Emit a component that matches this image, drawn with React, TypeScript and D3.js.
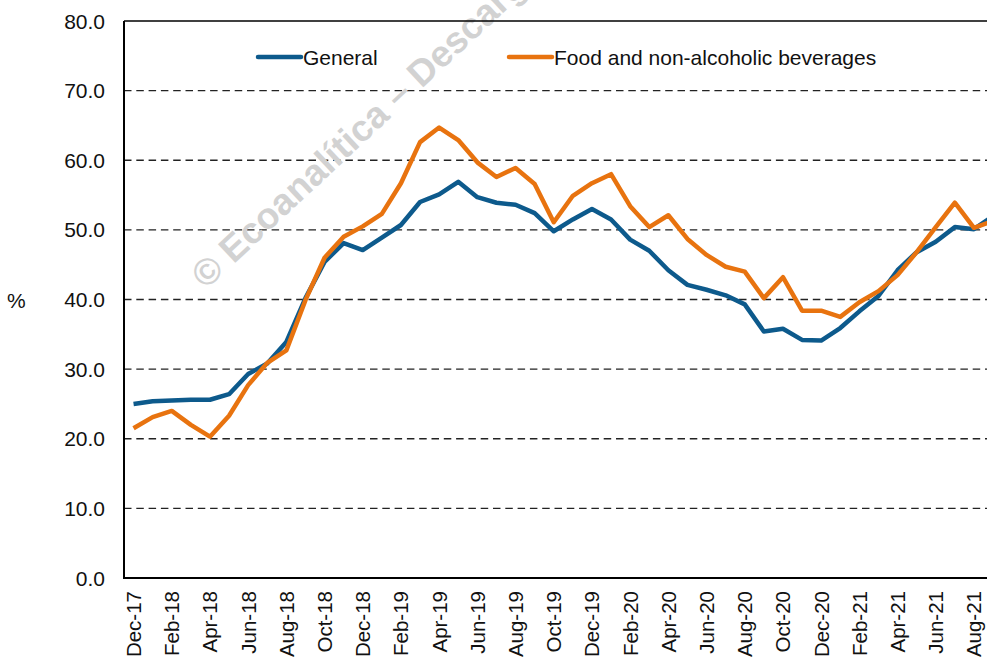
import React, { useEffect, useRef } from 'react';
import * as d3 from 'd3';

const months = [
  'Dec-17',
  'Jan-18', 'Feb-18', 'Mar-18', 'Apr-18', 'May-18', 'Jun-18', 'Jul-18', 'Aug-18', 'Sep-18', 'Oct-18', 'Nov-18', 'Dec-18',
  'Jan-19', 'Feb-19', 'Mar-19', 'Apr-19', 'May-19', 'Jun-19', 'Jul-19', 'Aug-19', 'Sep-19', 'Oct-19', 'Nov-19', 'Dec-19',
  'Jan-20', 'Feb-20', 'Mar-20', 'Apr-20', 'May-20', 'Jun-20', 'Jul-20', 'Aug-20', 'Sep-20', 'Oct-20', 'Nov-20', 'Dec-20',
  'Jan-21', 'Feb-21', 'Mar-21', 'Apr-21', 'May-21', 'Jun-21', 'Jul-21', 'Aug-21', 'Sep-21',
];

const general = [
  25.0,
  25.4, 25.5, 25.6, 25.6, 26.4, 29.3, 30.8, 33.9, 40.2, 45.4, 48.1, 47.1,
  48.9, 50.7, 54.0, 55.1, 56.9, 54.7, 53.9, 53.6, 52.4, 49.8, 51.5, 53.0,
  51.5, 48.6, 47.0, 44.2, 42.1, 41.4, 40.6, 39.3, 35.4, 35.8, 34.2, 34.1,
  35.9, 38.3, 40.5, 44.2, 46.8, 48.3, 50.4, 50.1, 52.0,
];

const food = [
  21.5,
  23.1, 24.0, 22.0, 20.3, 23.3, 27.7, 30.9, 32.7, 39.9, 46.0, 49.0, 50.5,
  52.3, 56.7, 62.6, 64.7, 62.9, 59.7, 57.6, 58.9, 56.6, 51.1, 54.9, 56.7,
  58.0, 53.4, 50.4, 52.1, 48.7, 46.4, 44.7, 44.0, 40.2, 43.2, 38.4, 38.4,
  37.5, 39.6, 41.2, 43.5, 46.8, 50.4, 53.9, 50.3, 51.3,
];

const yTicks = [0, 10, 20, 30, 40, 50, 60, 70, 80];
const seriesNames = ['General', 'Food and non-alcoholic beverages'];
const seriesColors = ['#0d5a8c', '#e8730f'];

const W = 987;
const H = 657;
const FONT = '"Liberation Sans", Arial, sans-serif';

export default function App() {
  const ref = useRef<SVGSVGElement>(null);

  useEffect(() => {
    const svg = d3.select(ref.current);
    svg.selectAll('*').remove();

    const left = 124;
    const top = 21;
    const bottom = 578;
    const step = 19.1;

    const x = d3
      .scaleBand<string>()
      .domain(months)
      .range([left, left + months.length * step]);
    const y = d3.scaleLinear().domain([0, 80]).range([bottom, top]);
    const cx = (m: string) => (x(m) as number) + x.bandwidth() / 2;

    // grid
    svg
      .append('g')
      .selectAll('line')
      .data(yTicks.filter((t) => t > 0 && t < 80))
      .enter()
      .append('line')
      .attr('x1', left)
      .attr('x2', W)
      .attr('y1', (d) => y(d))
      .attr('y2', (d) => y(d))
      .attr('stroke', '#222')
      .attr('stroke-width', 1.3)
      .attr('stroke-dasharray', '7.5,4.8');

    // watermark
    svg
      .append('text')
      .attr('transform', 'translate(206,290) rotate(-43)')
      .attr('font-family', FONT)
      .attr('font-weight', 'bold')
      .attr('font-size', 37)
      .attr('fill', '#d2d2d2')
      .text('© Ecoanalítica – Descarg');

    // frame
    svg
      .append('line')
      .attr('x1', left)
      .attr('x2', W)
      .attr('y1', top)
      .attr('y2', top)
      .attr('stroke', '#000')
      .attr('stroke-width', 1.6);
    svg
      .append('line')
      .attr('x1', left)
      .attr('x2', left)
      .attr('y1', top)
      .attr('y2', bottom + 1)
      .attr('stroke', '#000')
      .attr('stroke-width', 2);
    svg
      .append('line')
      .attr('x1', left - 1)
      .attr('x2', W)
      .attr('y1', bottom)
      .attr('y2', bottom)
      .attr('stroke', '#000')
      .attr('stroke-width', 2);

    // y labels
    svg
      .append('g')
      .selectAll('text')
      .data(yTicks)
      .enter()
      .append('text')
      .attr('x', 105)
      .attr('y', (d) => y(d))
      .attr('dy', '0.36em')
      .attr('text-anchor', 'end')
      .attr('font-family', FONT)
      .attr('font-size', 21)
      .attr('fill', '#111')
      .text((d) => d3.format('.1f')(d));

    svg
      .append('text')
      .attr('x', 7)
      .attr('y', 300)
      .attr('dy', '0.36em')
      .attr('font-family', FONT)
      .attr('font-size', 21)
      .attr('fill', '#111')
      .text('%');

    // x labels, every second month
    svg
      .append('g')
      .selectAll('text')
      .data(months.filter((m, i) => i % 2 === 0))
      .enter()
      .append('text')
      .attr('transform', (d) => `translate(${cx(d)},${bottom + 13}) rotate(-90)`)
      .attr('dy', '0.36em')
      .attr('text-anchor', 'end')
      .attr('font-family', FONT)
      .attr('font-size', 20.5)
      .attr('fill', '#111')
      .text((d) => d);

    // lines
    const line = d3
      .line<number>()
      .x((d, i) => cx(months[i]))
      .y((d) => y(d));

    [general, food].forEach((vals, k) => {
      svg
        .append('path')
        .datum(vals)
        .attr('d', line)
        .attr('fill', 'none')
        .attr('stroke', seriesColors[k])
        .attr('stroke-width', 4.5)
        .attr('stroke-linejoin', 'round');
    });

    // legend
    const legend = svg
      .append('g')
      .selectAll('g')
      .data(seriesNames)
      .enter()
      .append('g')
      .attr('transform', (d, i) => `translate(${i === 0 ? 258 : 509},57)`);
    legend
      .append('line')
      .attr('x1', 0)
      .attr('x2', 43)
      .attr('stroke', (d, i) => seriesColors[i])
      .attr('stroke-width', 4.5)
      .attr('stroke-linecap', 'round');
    legend
      .append('text')
      .attr('x', 45)
      .attr('dy', '0.36em')
      .attr('font-family', FONT)
      .attr('font-size', 21)
      .attr('fill', '#111')
      .text((d) => d);
  }, []);

  return (
    <svg
      ref={ref}
      width={W}
      height={H}
      style={{ position: 'absolute', left: 0, top: 0, background: '#fff' }}
    />
  );
}
